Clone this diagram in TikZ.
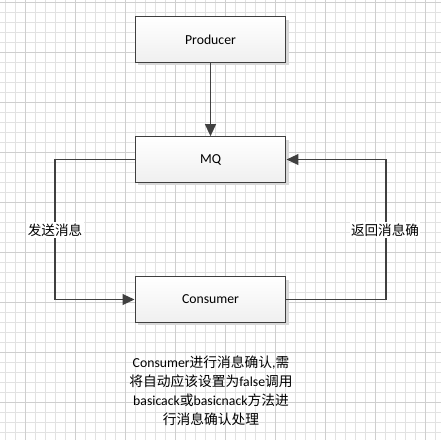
\documentclass[tikz,border=0pt]{standalone}
\usepackage{fontspec}
\setmainfont{Carlito}
\newfontfamily\cjk{Noto Sans CJK SC}
\usetikzlibrary{positioning, arrows.meta, shadows}
\definecolor{linegray}{HTML}{404040}
\definecolor{gridminor}{HTML}{E2E2E2}
\definecolor{gridmajor}{HTML}{CFCFCF}
\tikzset{
  box/.style={draw=linegray, line width=0.9pt, top color=white, bottom color=black!6,
    minimum width=113pt, minimum height=34pt, font=\fontsize{10.3}{12}\selectfont,
    drop shadow={shadow xshift=2pt, shadow yshift=-2pt, fill=black!15, opacity=1}},
  flow/.style={draw=linegray, line width=1.4pt, -{Triangle[length=9pt, width=8pt]}},
  lbl/.style={fill=white, inner sep=1pt, font=\cjk\fontsize{10.2}{12}\selectfont}
}

\begin{document}
\begin{tikzpicture}[x=0.75pt, y=-0.75pt]
                                \useasboundingbox (0,0) rectangle (441,440);
                                \fill[white] (0,0) rectangle (441,440);
                                % background grid
                                \foreach \gx in {5,15,...,435} \draw[gridminor, line width=0.6pt] (\gx,0) -- (\gx,440);
                                \foreach \gy in {2.7,12.7,...,440} \draw[gridminor, line width=0.6pt] (0,\gy) -- (441,\gy);
                                \foreach \gx in {25,75,...,435} \draw[gridmajor, line width=0.6pt] (\gx,0) -- (\gx,440);
                                \foreach \gy in {2.7,52.7,...,440} \draw[gridmajor, line width=0.6pt] (0,\gy) -- (441,\gy);
                                \node[box] (P) at (210.5,39.5) {Producer};
                                \node[box] (Q) at (210.5,159.5) {MQ};
                                \node[box] (C) at (210.5,299.5) {Consumer};
                                \coordinate (L1) at (55,159.5);
                                \coordinate (L2) at (55,299.5);
                                \coordinate (R1) at (386,299.5);
                                \coordinate (R2) at (386,159.5);
                                \draw[flow] (P) -- (Q);
                                \draw[flow] (Q.west) -- (L1) -- (L2) -- (C.west);
                                \draw[flow] (C.east) -- (R1) -- (R2) -- (Q.east);
                                \node[lbl] (send) at (55,230) {发送消息};
                                \node[lbl] (back) at (385,230) {返回消息确};
                                \node[align=center, font=\fontsize{10.3}{14.3}\selectfont] (note) at (211,391)
                                  {Consumer{\cjk 进行消息确认},{\cjk 需}\\
                                   {\cjk 将自动应该设置为}false{\cjk 调用}\\
                                   basicack{\cjk 或}basicnack{\cjk 方法进}\\
                                   {\cjk 行消息确认处理}};
                            \end{tikzpicture}
\end{document}
